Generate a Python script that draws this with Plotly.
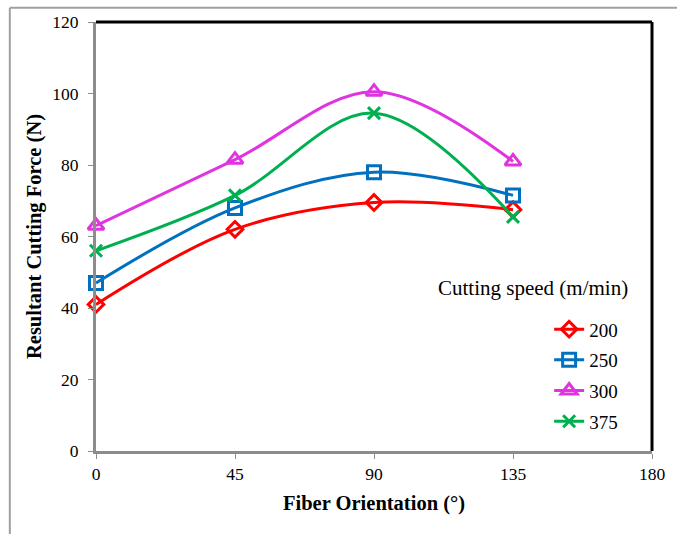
import plotly.graph_objects as go

orientation = [0, 45, 90, 135]
speeds = ["200", "250", "300", "375"]
force_200 = [41, 62, 69.5, 67.5]
force_250 = [47, 68, 78, 71.5]
force_300 = [63, 81.5, 100.5, 81]
force_375 = [56, 71.5, 94.5, 65.5]
x_ticks = [0, 45, 90, 135, 180]
y_ticks = [0, 20, 40, 60, 80, 100, 120]

series = [force_200, force_250, force_300, force_375]
colors = ["#FF0000", "#0070C0", "#E034E0", "#00B050"]
symbols = ["diamond-open", "square-open", "triangle-up-open", "x-thin"]
msizes = [12, 13, 14, 12]

FONT = "Times New Roman, Liberation Serif, serif"

fig = go.Figure()
for i, (name, ys) in enumerate(zip(speeds, series)):
    marker = dict(symbol=symbols[i], size=msizes[i], color=colors[i],
                  line=dict(width=3, color=colors[i]))
    fig.add_trace(go.Scatter(
        x=orientation, y=ys, name=name, mode="lines+markers",
        line=dict(color=colors[i], width=3, shape="spline", smoothing=1.0),
        marker=marker, legendgroup=name, cliponaxis=False,
    ))

fig.update_layout(
    width=677, height=534,
    margin=dict(l=96, r=25, t=22, b=83),
    paper_bgcolor="white", plot_bgcolor="white",
    font=dict(family=FONT, size=17, color="black"),
    showlegend=True,
    legend=dict(x=0.815, y=0.328, xanchor="left", yanchor="top",
                bgcolor="rgba(0,0,0,0)", font=dict(size=19, family=FONT, color="black"),
                traceorder="grouped", tracegroupgap=3),
    xaxis=dict(range=[0, 180], tickvals=x_ticks, showgrid=False, zeroline=False,
               showline=True, linecolor="#8c8c8c", linewidth=3,
               ticks="outside", ticklen=5, tickcolor="#8c8c8c", tickwidth=1,
               tickfont=dict(size=17.5, family=FONT, color="black"),
               title=dict(text="<b>Fiber Orientation (°)</b>",
                          font=dict(size=20.5, family=FONT, color="black"), standoff=13)),
    yaxis=dict(range=[0, 120], tickvals=y_ticks, showgrid=False, zeroline=False,
               showline=True, linecolor="#8c8c8c", linewidth=3,
               ticks="outside", ticklen=5, tickcolor="#8c8c8c", tickwidth=1,
               tickfont=dict(size=17.5, family=FONT, color="black"),
               ticklabelstandoff=6,
               title=dict(text="<b>Resultant Cutting Force (N)</b>",
                          font=dict(size=20.5, family=FONT, color="black"), standoff=6)),
)

# top and right black frame
fig.add_shape(type="line", xref="paper", yref="paper", x0=0, x1=1, y0=1, y1=1,
              line=dict(color="black", width=3))
fig.add_shape(type="line", xref="paper", yref="paper", x0=1, x1=1, y0=0, y1=1,
              line=dict(color="black", width=3))
# outer gray chart border
fig.add_shape(type="line", xref="paper", yref="paper", x0=-0.155, x1=1.1, y0=1.033, y1=1.033,
              line=dict(color="#a0a0a0", width=2))
fig.add_shape(type="line", xref="paper", yref="paper", x0=-0.155, x1=-0.155, y0=-0.2, y1=1.033,
              line=dict(color="#a0a0a0", width=2))

fig.add_annotation(text="Cutting speed (m/min)", xref="paper", yref="paper",
                   x=0.612, y=0.381, xanchor="left", yanchor="middle", showarrow=False,
                   font=dict(size=21, family=FONT, color="black"))

fig.write_html("out.html")
